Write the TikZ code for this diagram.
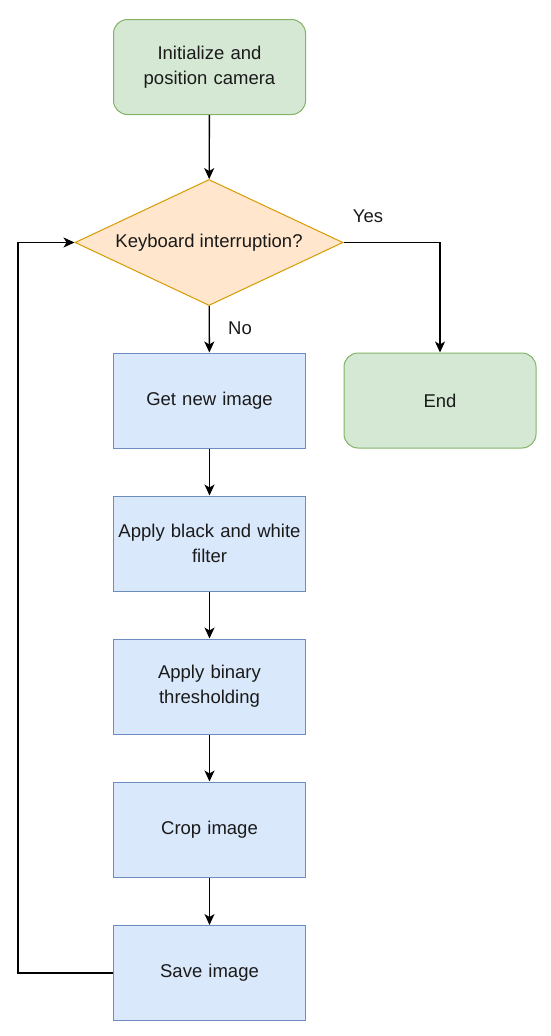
\documentclass[tikz,border=0pt]{standalone}
\usepackage{fontspec}
\setmainfont{Liberation Sans}
\usetikzlibrary{shapes.geometric,arrows.meta}
\definecolor{gfill}{HTML}{D5E8D4}
\definecolor{gline}{HTML}{82B366}
\definecolor{ofill}{HTML}{FFE6CC}
\definecolor{oline}{HTML}{D79B00}
\definecolor{bfill}{HTML}{DAE8FC}
\definecolor{bline}{HTML}{6C8EBF}
\definecolor{txt}{HTML}{1A1A1A}
\tikzset{
  base/.style={minimum width=192pt, minimum height=95pt, inner sep=2pt, align=center, text width=188pt, font=\fontsize{18.5}{25}\selectfont, text=txt, line width=1pt},
  term/.style={base, rectangle, rounded corners=14pt, fill=gfill, draw=gline},
  proc/.style={base, rectangle, fill=bfill, draw=bline},
  dec/.style={diamond, minimum width=268pt, minimum height=126pt, inner sep=0pt, fill=ofill, draw=oline, line width=1pt},
  lbl/.style={font=\fontsize{18.5}{25}\selectfont, text=txt},
  conn/.style={line width=1.4pt, -{Stealth[length=11pt,width=10pt,inset=3pt]}}
}
\begin{document}
\begin{tikzpicture}[x=1pt,y=-1pt]
\useasboundingbox (0,0) rectangle (550,1036);
\node[term] (start) at (209.5,67) {Initialize and\\position camera};
\node[dec] (dec) at (209,242.5) {};
\node[lbl] (dectxt) at (dec.center) {Keyboard interruption?};
\node[proc] (get) at (209.5,400.5) {Get new image};
\node[proc] (bw) at (209.5,543.5) {Apply black and white\\filter};
\node[proc] (bin) at (209.5,686.5) {Apply binary\\thresholding};
\node[proc] (crop) at (209.5,829.5) {Crop image};
\node[proc] (save) at (209.5,973) {Save image};
\node[term] (end) at (440,400.5) {End};
\coordinate (loopb) at (18,973);
\coordinate (loopt) at (18,242.5);
\coordinate (yesc) at (440,242.5);
\draw[conn] (start) -- (dec);
\draw[conn] (dec) -- (get);
\draw[conn] (get) -- (bw);
\draw[conn] (bw) -- (bin);
\draw[conn] (bin) -- (crop);
\draw[conn] (crop) -- (save);
\draw[conn] (dec.east) -- (yesc) -- (end.north);
\draw[conn] (save.west) -- (loopb) -- (loopt) -- (dec.west);
\node[lbl] (yes) at (368,216) {Yes};
\node[lbl] (no) at (240,328) {No};
\end{tikzpicture}
\end{document}
